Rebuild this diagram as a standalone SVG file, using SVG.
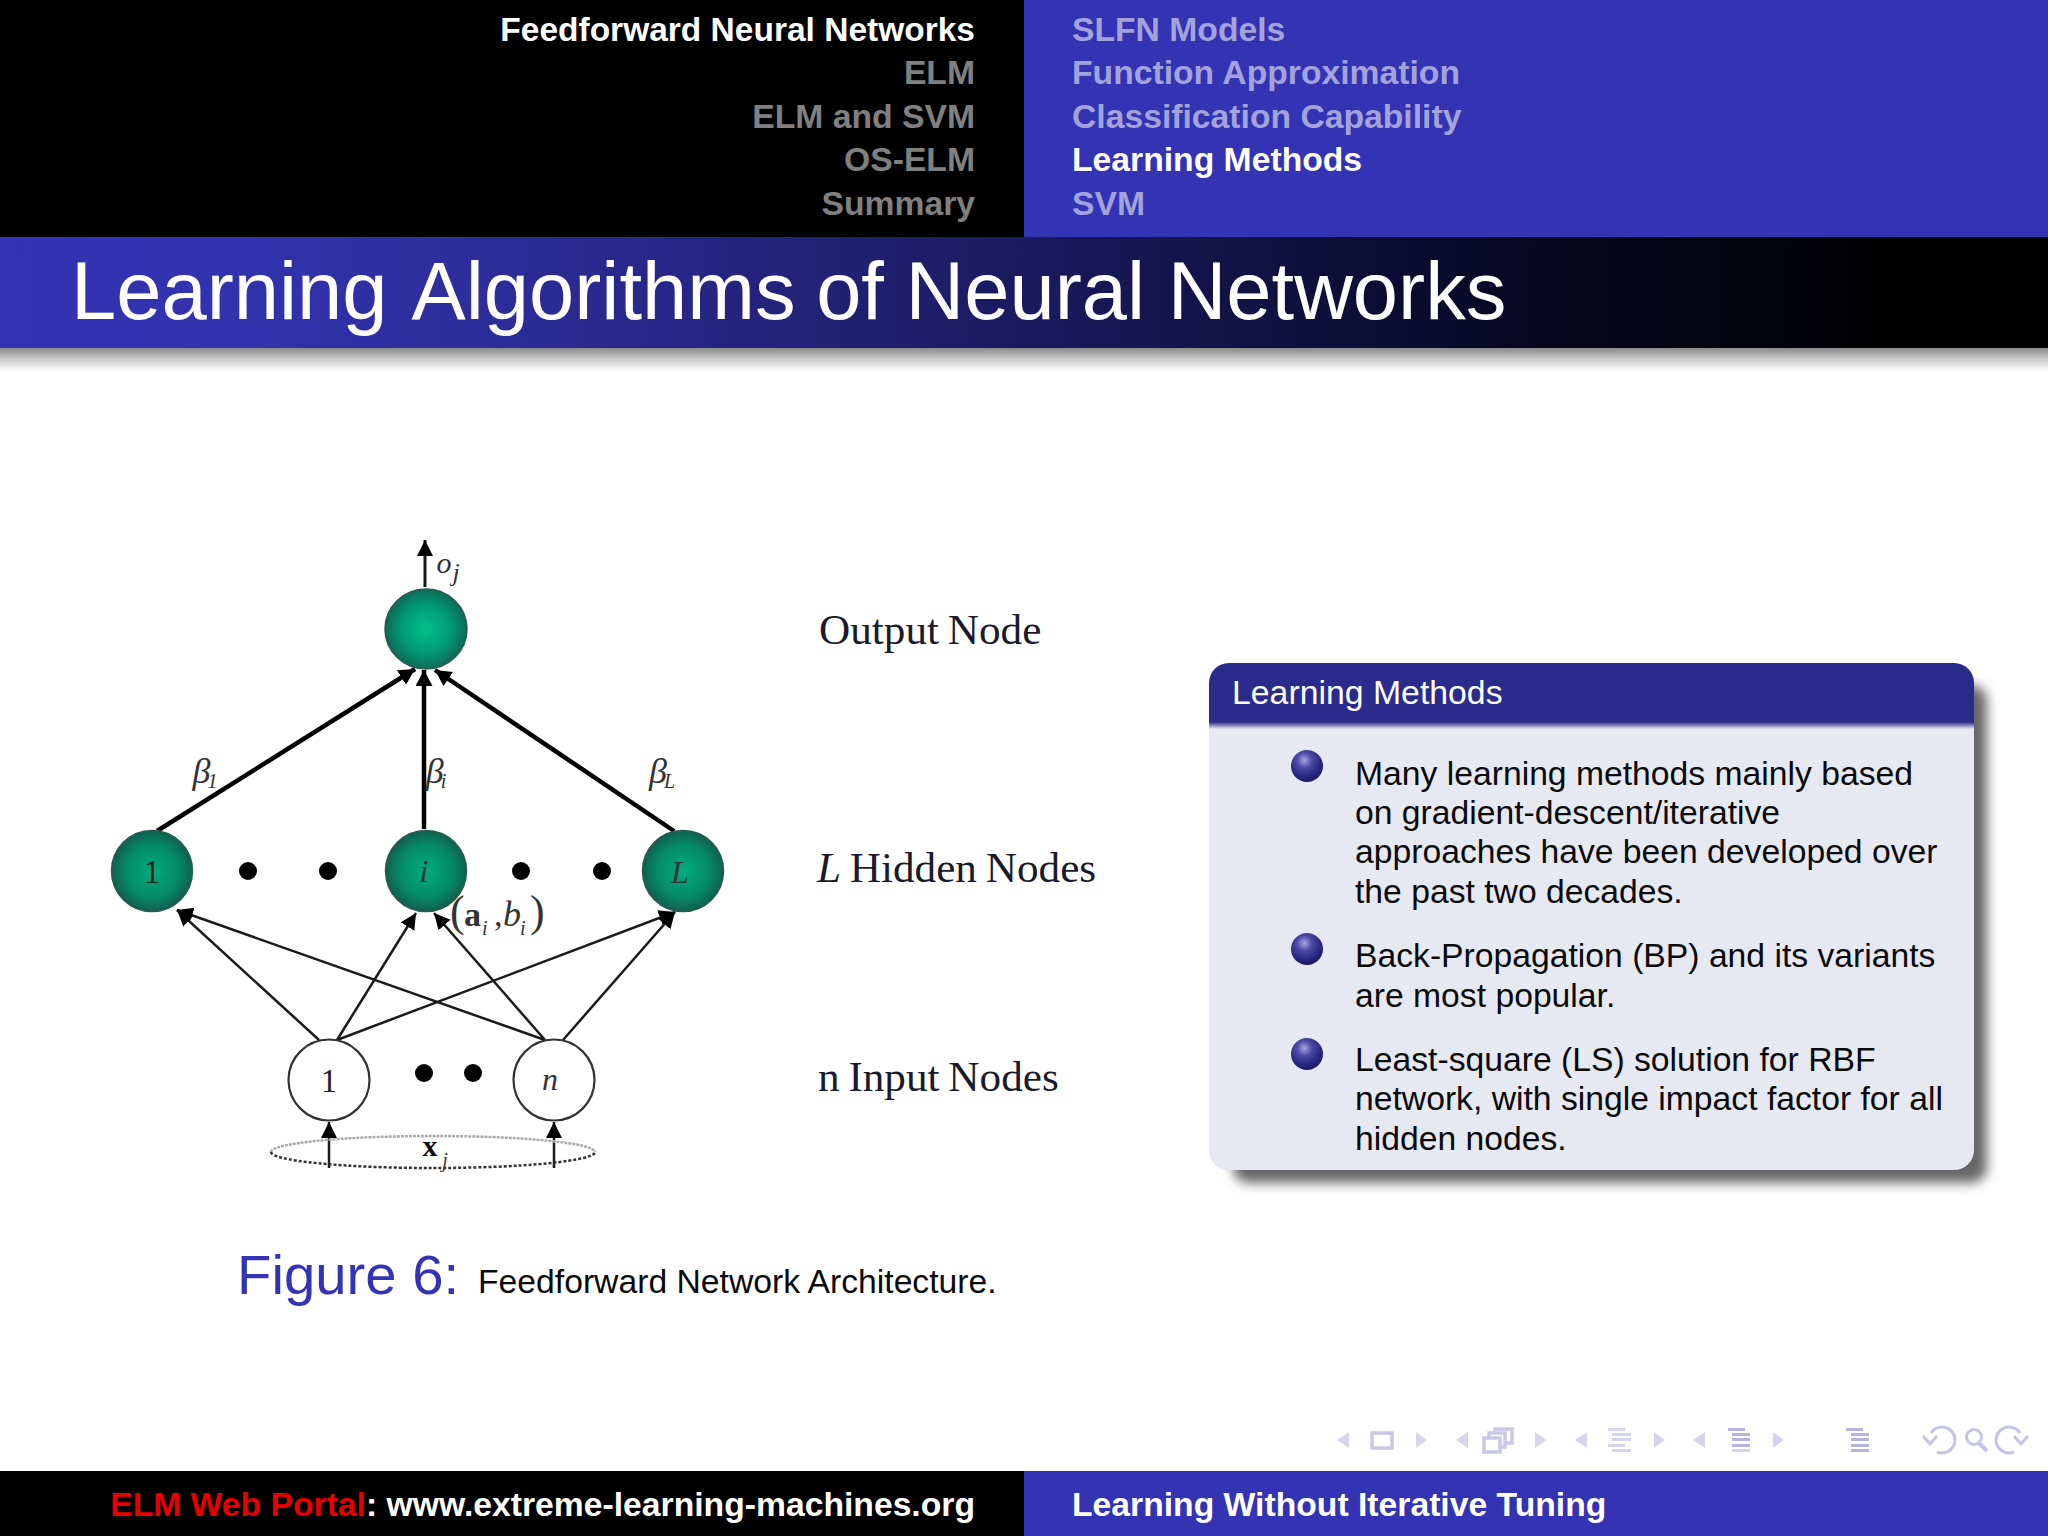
<svg xmlns="http://www.w3.org/2000/svg" width="2048" height="1536" viewBox="0 0 2048 1536">
<defs>
<linearGradient id="titleGrad" gradientUnits="userSpaceOnUse" x1="0" y1="0" x2="2048" y2="0"><stop offset="0" stop-color="#3333b3"/><stop offset="0.12" stop-color="#3232ae"/><stop offset="0.25" stop-color="#2c2c98"/><stop offset="0.49" stop-color="#1b1b62"/><stop offset="0.73" stop-color="#080826"/><stop offset="0.93" stop-color="#000000"/></linearGradient>
<linearGradient id="shadowGrad" x1="0" y1="0" x2="0" y2="1"><stop offset="0" stop-color="#8a8a8a"/><stop offset="0.5" stop-color="#cfcfcf"/><stop offset="1" stop-color="#ffffff"/></linearGradient>
<linearGradient id="headFade" x1="0" y1="0" x2="0" y2="1"><stop offset="0" stop-color="#2b2b8c"/><stop offset="1" stop-color="#e6e8f2"/></linearGradient>
<radialGradient id="nodeTop" cx="0.5" cy="0.5" r="0.5"><stop offset="0" stop-color="#00c08c"/><stop offset="0.6" stop-color="#009a74"/><stop offset="1" stop-color="#0e6a58"/></radialGradient>
<radialGradient id="nodeMid" cx="0.5" cy="0.5" r="0.5"><stop offset="0" stop-color="#00ad80"/><stop offset="0.65" stop-color="#058a68"/><stop offset="1" stop-color="#10604f"/></radialGradient>
<radialGradient id="ball" cx="0.42" cy="0.32" r="0.68"><stop offset="0" stop-color="#a8a8dc"/><stop offset="0.35" stop-color="#4a4aa6"/><stop offset="0.8" stop-color="#24247c"/><stop offset="1" stop-color="#1c1c64"/></radialGradient>
<filter id="soft" x="-10%" y="-10%" width="120%" height="120%"><feGaussianBlur stdDeviation="6"/></filter>
<marker id="arrowBig" markerUnits="userSpaceOnUse" markerWidth="18" markerHeight="18" refX="16" refY="8.500" orient="auto"><path d="M0 0L16 8.500L0 17Z" fill="#000"/></marker>
<marker id="arrowThin" markerUnits="userSpaceOnUse" markerWidth="18" markerHeight="18" refX="16" refY="8" orient="auto"><path d="M0 0L16 8L0 16Z" fill="#000"/></marker>
<path id="tl" d="M0 0L-12 8L0 16Z"/>
<path id="tr" d="M0 0L11 8L0 16Z"/>
</defs>
<style>
.nav{font-family:"Liberation Sans",Arial,sans-serif;font-weight:bold;font-size:33.700px}
.lft{text-anchor:end;fill:#808080}
.rgt{fill:#a3a3dc}
.body{font-family:"Liberation Sans",Arial,sans-serif;font-size:33.700px;fill:#0a0a0a}
.serif{font-family:"Liberation Serif","Times New Roman",serif;fill:#1a1a2a;font-size:43.200px;word-spacing:-2px}
.math{font-family:"Liberation Serif","Times New Roman",serif;font-style:italic;fill:#333;font-size:36px;text-anchor:middle}
.num{font-family:"Liberation Serif","Times New Roman",serif;fill:#222;font-size:33px;text-anchor:middle}
.sub{font-size:20px}
.thick{stroke:#000;stroke-width:4.500;fill:none;marker-end:url(#arrowBig)}
.thin{stroke:#1a1a1a;stroke-width:2.500;fill:none;marker-end:url(#arrowThin)}
.hid{fill:url(#nodeMid);stroke:#2a5a50;stroke-width:1.500}
.inp{fill:#fff;stroke:#333;stroke-width:2.200}
.ic{fill:#d4d4ec}
.ln{fill:#b4b4dc}
.bar{fill:none;stroke:#c8c8e6;stroke-width:3.500}
.rot{fill:none;stroke:#c4c4e4;stroke-width:3}
</style>
<rect width="2048" height="1536" fill="#fff"/>

<g id="header">
<rect x="0" y="0" width="1024" height="237" fill="#000"/>
<rect x="1024" y="0" width="1024" height="237" fill="#3333b3"/>
<text class="nav" style="font-size:33.500px" x="975" y="40.500" text-anchor="end" fill="#fff">Feedforward Neural Networks</text>
<text class="nav lft" x="975" y="84">ELM</text>
<text class="nav lft" x="975" y="127.500">ELM and SVM</text>
<text class="nav lft" x="975" y="171">OS-ELM</text>
<text class="nav lft" x="975" y="215">Summary</text>
<text class="nav rgt" x="1072" y="40.500">SLFN Models</text>
<text class="nav rgt" x="1072" y="84">Function Approximation</text>
<text class="nav rgt" x="1072" y="127.500">Classification Capability</text>
<text class="nav" x="1072" y="171" fill="#fff">Learning Methods</text>
<text class="nav rgt" x="1072" y="215">SVM</text>
</g>
<g id="title">
<rect x="0" y="348" width="2048" height="24" fill="url(#shadowGrad)"/>
<rect x="0" y="237" width="2048" height="111" fill="url(#titleGrad)"/>
<text x="71" y="319" font-family="'Liberation Sans',Arial,sans-serif" font-size="81.300" fill="#fff">Learning <tspan dx="6">Algorithms</tspan> <tspan dx="-2">of</tspan> <tspan dx="-1">Neural</tspan> Networks</text>
</g>

<g id="connectors">
<line class="thin" style="stroke-width:3" x1="425" y1="587" x2="425" y2="540"/>
<line class="thick" x1="157" y1="831" x2="415" y2="669"/>
<line class="thick" x1="424" y1="829" x2="424" y2="670"/>
<line class="thick" x1="674" y1="831" x2="435" y2="670"/>
<line class="thin" x1="319" y1="1040" x2="177" y2="910"/>
<line class="thin" x1="337" y1="1040" x2="416" y2="913"/>
<line class="thin" x1="337" y1="1040" x2="675" y2="912"/>
<line class="thin" x1="545" y1="1040" x2="177" y2="910"/>
<line class="thin" x1="545" y1="1040" x2="434" y2="913"/>
<line class="thin" x1="563" y1="1040" x2="675" y2="912"/>
<line class="thin" x1="329" y1="1168" x2="329" y2="1122"/>
<line class="thin" x1="554" y1="1168" x2="554" y2="1122"/>
</g>

<g id="node-output"><ellipse cx="426" cy="629" rx="41" ry="40" fill="url(#nodeTop)" stroke="#2a5a50" stroke-width="1.500"/></g>
<g id="node-hidden-1"><circle class="hid" cx="152" cy="871" r="40.500"/><text class="num" x="152" y="883">1</text></g>
<g id="node-hidden-i"><circle class="hid" cx="426" cy="871" r="40.500"/><text class="math" style="font-size:32px" x="424" y="882">i</text></g>
<g id="node-hidden-L"><circle class="hid" cx="683" cy="871" r="40.500"/><text class="math" style="font-size:32px" x="680" y="883">L</text></g>
<g id="dots-hidden" fill="#000"><circle cx="248" cy="871" r="9"/><circle cx="328" cy="871" r="9"/><circle cx="521" cy="871" r="9"/><circle cx="602" cy="871" r="9"/></g>
<g id="node-input-1"><circle class="inp" cx="329" cy="1080" r="40.500"/><text class="num" x="329" y="1092">1</text></g>
<g id="node-input-n"><circle class="inp" cx="554" cy="1080" r="40.500"/><text class="math" style="font-size:32px" x="550" y="1090">n</text></g>
<g id="dots-input" fill="#000"><circle cx="424" cy="1073" r="9"/><circle cx="473" cy="1073" r="9"/></g>
<g id="node-xj">
<path d="M271 1152A162 16 0 0 1 595 1152" fill="none" stroke="#aaa" stroke-width="2.500" stroke-dasharray="3 1"/>
<path d="M271 1152A162 16 0 0 0 595 1152" fill="none" stroke="#333" stroke-width="2.500" stroke-dasharray="3 2"/>
<text x="430" y="1156" font-family="'Liberation Serif',serif" font-weight="bold" font-size="30" fill="#111" text-anchor="middle">x</text>
<text class="math sub" x="445" y="1167">j</text>
</g>
<g id="labels-math">
<text class="math" style="font-size:30px" x="444" y="573">o</text>
<text class="math" style="font-size:26px" x="456" y="581">j</text>
<text class="math" x="205" y="783">β<tspan class="sub" dx="-3" dy="5">1</tspan></text>
<text class="math" x="436" y="783">β<tspan class="sub" dx="-3" dy="5">i</tspan></text>
<text class="math" x="662" y="783">β<tspan class="sub" dx="-3" dy="5">L</tspan></text>
<text font-family="'Liberation Serif',serif" fill="#333" y="926"><tspan x="450" font-size="44">(</tspan><tspan x="464" font-weight="bold" font-size="34">a</tspan><tspan x="482" y="935" font-style="italic" font-size="20">i</tspan><tspan x="494" y="926" font-size="34">,</tspan><tspan x="503" font-style="italic" font-size="36">b</tspan><tspan x="520" y="935" font-style="italic" font-size="20">i</tspan><tspan x="530" y="926" font-size="44">)</tspan></text>
</g>
<g id="labels-layer">
<text class="serif" x="819" y="644">Output Node</text>
<text class="serif" x="817" y="882"><tspan font-style="italic">L</tspan> Hidden Nodes</text>
<text class="serif" x="818" y="1091">n Input Nodes</text>
</g>
<g id="caption">
<text x="237" y="1294" font-family="'Liberation Sans',Arial,sans-serif" font-size="56.300" fill="#3333b3">Figure 6:</text>
<text class="body" x="478" y="1293">Feedforward Network Architecture.</text>
</g>

<g id="block">
<rect x="1233" y="685" width="754" height="498" rx="16" fill="#666" filter="url(#soft)"/>
<rect x="1209" y="663" width="765" height="507" rx="20" fill="#e6e8f2"/>
<path d="M1209 722V683a20 20 0 0 1 20-20H1954a20 20 0 0 1 20 20V722Z" fill="#2b2b8c"/>
<rect x="1209" y="722" width="765" height="7" fill="url(#headFade)"/>
<text x="1232" y="704" font-family="'Liberation Sans',Arial,sans-serif" font-size="33.800" fill="#fff">Learning Methods</text>
<circle cx="1307" cy="766" r="16" fill="url(#ball)"/>
<circle cx="1307" cy="949" r="16" fill="url(#ball)"/>
<circle cx="1307" cy="1054" r="16" fill="url(#ball)"/>
<text class="body"><tspan x="1355" y="785">Many learning methods mainly based</tspan><tspan x="1355" y="824">on gradient-descent/iterative</tspan><tspan x="1355" y="863">approaches have been developed over</tspan><tspan x="1355" y="903">the past two decades.</tspan></text>
<text class="body"><tspan x="1355" y="967">Back-Propagation (BP) and its variants</tspan><tspan x="1355" y="1007">are most popular.</tspan></text>
<text class="body"><tspan x="1355" y="1071">Least-square (LS) solution for RBF</tspan><tspan x="1355" y="1110">network, with single impact factor for all</tspan><tspan x="1355" y="1150">hidden nodes.</tspan></text>
</g>

<g id="nav-icons">
<use href="#tl" class="ic" x="1349" y="1432"/>
<rect class="bar" x="1372" y="1433" width="20" height="15"/>
<use href="#tr" class="ic" x="1416" y="1432"/>
<use href="#tl" class="ic" x="1468" y="1432"/>
<path class="bar" d="M1484 1438h16v14h-16zM1489 1438v-5h16v14h-5M1495 1433v-4h17v14h-7"/>
<use href="#tr" class="ic" x="1535" y="1432"/>
<use href="#tl" class="ic" x="1587" y="1432"/>
<path class="ic" d="M1608 1428h17v3h-17zM1612 1433h19v3h-19zM1612 1438h19v3h-19zM1608 1444h17v3h-17zM1612 1449h19v3h-19z"/>
<use href="#tr" class="ic" x="1654" y="1432"/>
<use href="#tl" class="ic" x="1705" y="1432"/>
<path class="ln" d="M1728 1428h17v3h-17zM1732 1433h18v3h-18zM1732 1438h18v3h-18zM1732 1444h18v3h-18z"/><path class="ic" d="M1732 1449h18v3h-18z"/>
<use href="#tr" class="ic" x="1773" y="1432"/>
<path class="ln" d="M1846 1428h17v3h-17zM1851 1433h18v3h-18zM1851 1438h18v3h-18zM1851 1444h18v3h-18zM1851 1449h18v3h-18z"/>
<path class="rot" d="M1931 1433a13 13 0 1 1 6 19M1923 1436l7 8 7-8"/>
<circle cx="1974" cy="1437" r="7.500" class="rot"/><path d="M1979 1443l8 8" stroke="#c4c4e4" stroke-width="4"/>
<path class="rot" d="M2020 1433a13 13 0 1 0 -6 19M2028 1436l-7 8-7-8"/>
</g>

<g id="footer">
<rect x="0" y="1471" width="1024" height="65" fill="#000"/>
<rect x="1024" y="1471" width="1024" height="65" fill="#3333b3"/>
<text class="nav" x="975" y="1516" text-anchor="end" fill="#fff"><tspan fill="#e60000">ELM Web Portal</tspan>: www.extreme-learning-machines.org</text>
<text class="nav" x="1072" y="1516" fill="#fff">Learning Without Iterative Tuning</text>
</g>
</svg>
